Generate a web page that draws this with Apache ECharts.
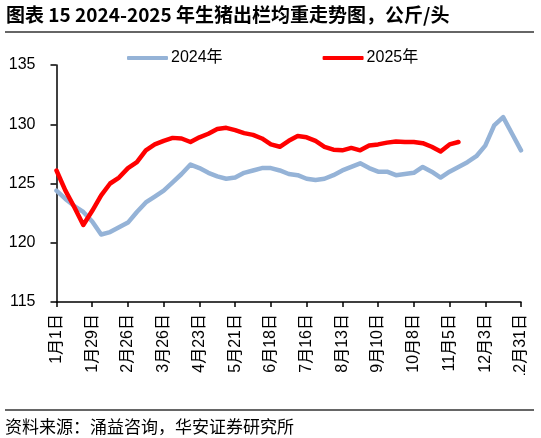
<!DOCTYPE html>
<html>
<head>
<meta charset="utf-8">
<script src="https://cdn.jsdelivr.net/npm/echarts@6/dist/echarts.min.js"></script>
<style>
    html, body {margin: 0; padding: 0; background: #fff;}
    #main {width: 541px; height: 438px;}
</style>
</head>
<body>
<div id="main"></div>
<script>
//周度日期（每周一个点）
var weeks = ['1月1日', '1月8日', '1月15日', '1月22日', '1月29日', '2月5日', '2月12日', '2月19日', '2月26日',
    '3月5日', '3月12日', '3月19日', '3月26日', '4月2日', '4月9日', '4月16日', '4月23日', '4月30日',
    '5月7日', '5月14日', '5月21日', '5月28日', '6月4日', '6月11日', '6月18日', '6月25日', '7月2日',
    '7月9日', '7月16日', '7月23日', '7月30日', '8月6日', '8月13日', '8月20日', '8月27日', '9月3日',
    '9月10日', '9月17日', '9月24日', '10月1日', '10月8日', '10月15日', '10月22日', '10月29日', '11月5日',
    '11月12日', '11月19日', '11月26日', '12月3日', '12月10日', '12月17日', '12月24日', '12月31日'];

//2024年出栏均重
var weight2024 = [124.4, 123.7, 123.1, 122.6, 121.8, 120.7, 120.9, 121.3, 121.7, 122.6,
    123.4, 123.9, 124.4, 125.1, 125.8, 126.6, 126.3, 125.9, 125.6, 125.4,
    125.5, 125.9, 126.1, 126.3, 126.3, 126.1, 125.8, 125.7, 125.4, 125.3,
    125.4, 125.7, 126.1, 126.4, 126.7, 126.3, 126.0, 126.0, 125.7, 125.8,
    125.9, 126.4, 126.0, 125.5, 126.0, 126.4, 126.8, 127.3, 128.2, 129.9,
    130.6, 129.2, 127.8];

//2025年出栏均重
var weight2025 = [126.1, 124.4, 123.0, 121.5, 122.7, 124.0, 125.0, 125.5, 126.3, 126.8,
    127.8, 128.3, 128.6, 128.85, 128.8, 128.5, 128.9, 129.2, 129.6, 129.7,
    129.5, 129.25, 129.1, 128.8, 128.3, 128.1, 128.6, 129.0, 128.9, 128.6,
    128.1, 127.85, 127.8, 128.0, 127.8, 128.2, 128.3, 128.45, 128.55, 128.5,
    128.5, 128.4, 128.1, 127.7, 128.3, 128.5];

var seriesNames = ['2024年', '2025年'];
var yTicks = [115, 135, 5]; //最小值 最大值 间隔

var font = '"Liberation Sans", "Noto Sans CJK SC", sans-serif';
var cjk = '"Noto Sans CJK SC", sans-serif';

var chart = echarts.init(document.getElementById('main'));
var option = {
    backgroundColor: '#fff',
    animation: false,
    grid: {left: 56.5, right: 20, top: 65, bottom: 136, containLabel: false},
    legend: {
        left: 122,
        top: 45,
        itemWidth: 41,
        itemHeight: 4,
        itemGap: 100,
        icon: 'roundRect',
        textStyle: {fontFamily: font, fontSize: 16, color: '#000', padding: [0, 0, 0, -2]},
        data: seriesNames
    },
    xAxis: {
        type: 'category',
        boundaryGap: false,
        data: weeks,
        axisLine: {lineStyle: {color: '#000', width: 1.5}},
        axisTick: {interval: 3, length: 5, lineStyle: {color: '#000', width: 1.5}},
        axisLabel: {interval: 3, rotate: 90, margin: 12, fontFamily: font, fontSize: 16, color: '#000'},
        splitLine: {show: false}
    },
    yAxis: {
        type: 'value',
        min: yTicks[0],
        max: yTicks[1],
        interval: yTicks[2],
        axisLine: {show: true, lineStyle: {color: '#000', width: 1.5}},
        axisTick: {show: true, length: 6, lineStyle: {color: '#000', width: 1.5}},
        axisLabel: {margin: 21, fontFamily: font, fontSize: 16, color: '#000'},
        splitLine: {show: false}
    },
    series: [
        {
            name: seriesNames[0],
            type: 'line',
            data: weight2024,
            showSymbol: false,
            symbol: 'none',
            itemStyle: {color: '#95B3D7'},
            lineStyle: {color: '#95B3D7', width: 4.5, cap: 'round', join: 'round'},
            z: 2
        },
        {
            name: seriesNames[1],
            type: 'line',
            data: weight2025,
            showSymbol: false,
            symbol: 'none',
            itemStyle: {color: '#FF0000'},
            lineStyle: {color: '#FF0000', width: 4.5, cap: 'round', join: 'round'},
            z: 3
        }
    ],
    graphic: [
        //标题
        {
            type: 'text', left: 6, top: 5,
            style: {text: '图表 15 2024-2025 年生猪出栏均重走势图，公斤/头', fontFamily: cjk, fontSize: 19, fontWeight: 'bold', fill: '#000'}
        },
        {
            type: 'line', shape: {x1: 5, y1: 32, x2: 534, y2: 32},
            style: {stroke: '#333', lineWidth: 1.5}
        },
        //最后一个标签被截断
        {
            type: 'rect', shape: {x: 505, y: 375, width: 36, height: 30},
            style: {fill: '#fff'}, z: 100
        },
        {
            type: 'line', shape: {x1: 5, y1: 410, x2: 534, y2: 410},
            style: {stroke: '#333', lineWidth: 1.5}, z: 101
        },
        //资料来源
        {
            type: 'text', left: 5, top: 418,
            style: {text: '资料来源：涌益咨询，华安证券研究所', fontFamily: cjk, fontSize: 17, fill: '#000'}
        }
    ]
};

if (option && typeof option === "object") {
    chart.setOption(option, true);
}
</script>
</body>
</html>
